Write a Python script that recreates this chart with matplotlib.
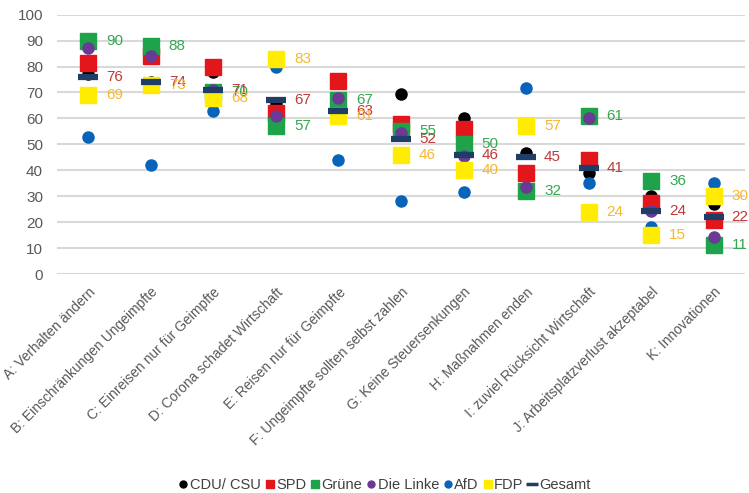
import matplotlib
matplotlib.use("Agg")
import matplotlib.pyplot as plt
from matplotlib.lines import Line2D

categories = ["A: Verhalten ändern", "B: Einschränkungen Ungeimpfte", "C: Einreisen nur für Geimpfte",
              "D: Corona schadet Wirtschaft", "E: Reisen nur für Geimpfte", "F: Ungeimpfte sollten selbst zahlen",
              "G: Keine Steuersenkungen", "H: Maßnahmen enden", "I: zuviel Rücksicht Wirtschaft",
              "J: Arbeitsplatzverlust akzeptabel", "K: Innovationen"]
cdu = [77, 74, 78, 66, 67, 69.5, 60, 46.5, 39, 30, 27]
spd = [81.5, 84, 80, 62, 74.5, 58, 56, 39, 44, 27.5, 21]
gruene = [90, 88, 70, 57, 67, 55, 50, 32, 61, 36, 11]
linke = [87, 84, 71, 61, 68, 54.5, 45.5, 33.5, 60, 24.3, 14.3]
afd = [53, 42, 63, 80, 44, 28, 31.7, 71.7, 35, 18, 35]
fdp = [69, 73, 68, 83, 61, 46, 40, 57, 24, 15, 30]
gesamt = [76, 74, 71, 67, 63, 52, 46, 45, 41, 24.4, 22]
yticks = [0, 10, 20, 30, 40, 50, 60, 70, 80, 90, 100]

plt.rcParams['font.family'] = ['Liberation Sans', 'DejaVu Sans']

fig = plt.figure(figsize=(7.49, 4.93), dpi=100)
ax = fig.add_axes([57/749, 1-274/493, 688/749, 259.3/493])
x = list(range(len(categories)))

ax.set_ylim(0, 100)
ax.set_xlim(-0.5, len(categories) - 0.5)
ax.set_yticks(yticks)
for yt in yticks:
    ax.axhline(yt, color='#D9D9D9', lw=1.5, zorder=0)
for s in ax.spines.values():
    s.set_visible(False)
ax.tick_params(axis='both', length=0, colors='#595959', labelsize=11)
ax.tick_params(axis='y', pad=10)
ax.set_xticks(x)
ax.set_xticklabels(categories, rotation=45, ha='right', rotation_mode='anchor', fontsize=10)
ax.tick_params(axis='x', pad=8)

c_cdu = '#000000'; c_spd = '#E3161B'; c_gr = '#1FA34A'; c_li = '#6A3A95'
c_afd = '#0864B8'; c_fdp = '#FFEC00'; c_ges = '#1F3D66'

sq = 12
ax.plot(x, cdu, 'o', color=c_cdu, ms=8, ls='none', zorder=3, clip_on=False)
ax.plot(x, spd, 's', color=c_spd, ms=sq, ls='none', zorder=4, clip_on=False)
ax.plot(x, gruene, 's', color=c_gr, ms=sq, ls='none', zorder=5, clip_on=False)
ax.plot(x, linke, 'o', color=c_li, ms=8, ls='none', zorder=6, clip_on=False)
ax.plot(x, afd, 'o', color=c_afd, ms=8, ls='none', zorder=7, clip_on=False)
ax.plot(x, fdp, 's', color=c_fdp, ms=sq, ls='none', zorder=8, clip_on=False)
ax.plot(x, gesamt, '_', color=c_ges, ms=15, mew=4.5, ls='none', zorder=9, clip_on=False)

lab_gr = '#33A850'; lab_ges = '#C0393B'; lab_fdp = '#F7B731'
for xi, g, t, f in zip(x, gruene, gesamt, fdp):
    ax.annotate(f"{round(g)}", (xi, g), xytext=(18, 0), textcoords='offset pixels',
                va='center', ha='left', color=lab_gr, fontsize=11, zorder=10)
    ax.annotate(f"{round(t)}", (xi, t), xytext=(18, 0), textcoords='offset pixels',
                va='center', ha='left', color=lab_ges, fontsize=11, zorder=10)
    ax.annotate(f"{round(f)}", (xi, f), xytext=(18, 0), textcoords='offset pixels',
                va='center', ha='left', color=lab_fdp, fontsize=11, zorder=10)

handles = [
    Line2D([], [], marker='o', color=c_cdu, ls='none', ms=5),
    Line2D([], [], marker='s', color=c_spd, ls='none', ms=6),
    Line2D([], [], marker='s', color=c_gr, ls='none', ms=6),
    Line2D([], [], marker='o', color=c_li, ls='none', ms=5),
    Line2D([], [], marker='o', color=c_afd, ls='none', ms=5),
    Line2D([], [], marker='s', color=c_fdp, ls='none', ms=6),
    Line2D([], [], marker='_', color=c_ges, ls='none', ms=9, mew=2.5),
]
names = ["CDU/ CSU", "SPD", "Grüne", "Die Linke", "AfD", "FDP", "Gesamt"]
leg = fig.legend(handles, names, loc='lower center', bbox_to_anchor=(0.514, -0.025), ncol=7, frameon=False,
                 fontsize=10.5, handlelength=0.5, handletextpad=0.2, columnspacing=0.35)
for t in leg.get_texts():
    t.set_color('#404040')

fig.savefig("out.png", dpi=100, facecolor='white')
